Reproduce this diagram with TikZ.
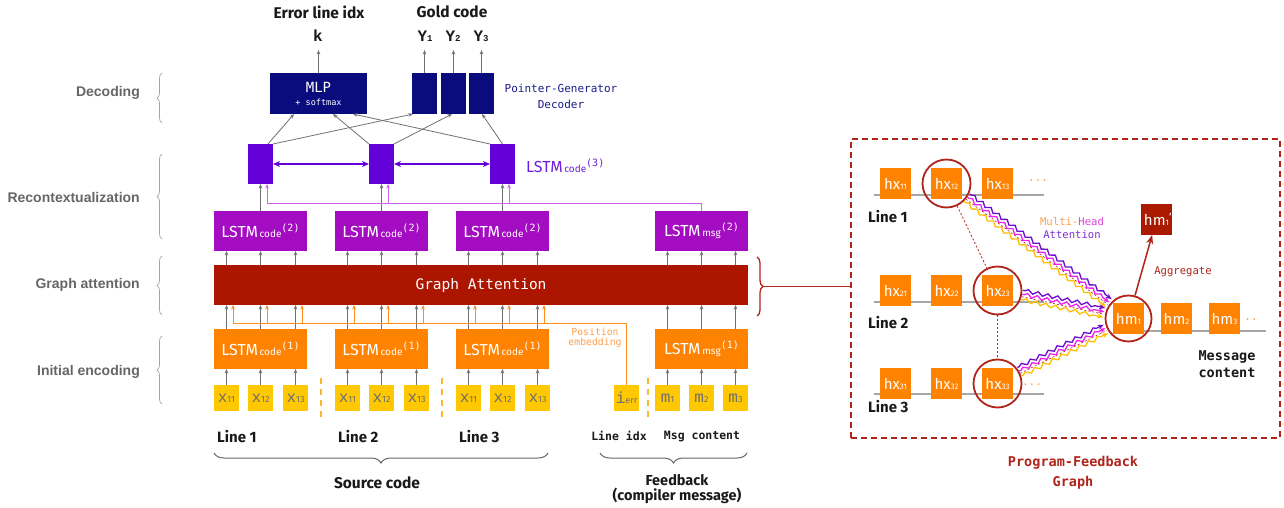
\documentclass[tikz,border=0pt]{standalone}
\usepackage{fontspec}
\setmainfont{Fira Sans}
\newfontfamily\arialf{Liberation Sans}
\newfontfamily\dmono{DejaVu Sans Mono}
\newfontfamily\courf{Liberation Mono}
\usetikzlibrary{arrows.meta,decorations.pathreplacing,decorations.pathmorphing,calc}

\definecolor{navy}{HTML}{0A0C7E}
\definecolor{lstmthree}{HTML}{6400D8}
\definecolor{lstmtwo}{HTML}{A40CC2}
\definecolor{garec}{HTML}{AC1600}
\definecolor{lstmone}{HTML}{FF8200}
\definecolor{inyel}{HTML}{FFC800}
\definecolor{arrgray}{HTML}{707070}
\definecolor{orline}{HTML}{FF8C1A}
\definecolor{ortext}{HTML}{FFA04A}
\definecolor{purline}{HTML}{CC66E6}
\definecolor{pfred}{HTML}{B0241A}
\definecolor{labgray}{HTML}{666666}
\definecolor{ptrtext}{HTML}{1C1C8C}
\definecolor{lthreetext}{HTML}{6A1FD8}
\definecolor{sepor}{HTML}{FFB52E}
\definecolor{wpurple}{HTML}{6A0DD0}
\definecolor{wmag}{HTML}{EE22EE}
\definecolor{wyel}{HTML}{FFC000}
\definecolor{intext}{HTML}{6E6E6E}
\definecolor{hmdark}{HTML}{AA1A00}
\definecolor{headmag}{HTML}{E040E0}
\definecolor{attpur}{HTML}{7A30D0}

\newcommand{\fsz}[1]{\fontsize{#1}{#1}\selectfont}
\newcommand{\lstmlab}[2]{{\fsz{16}LSTM}\,{\fsz{10}#1}{\dmono\fsz{10}\raisebox{6pt}{(#2)}}}
\newcommand{\xin}[2]{{\courf\fsz{16}#1}{\fsz{9}#2}}
\newcommand{\hxl}[2]{{\fsz{15}#1}{\fsz{8}#2}}

\tikzset{
  box/.style={inner sep=0pt, outer sep=0pt},
  mlpb/.style={box, fill=navy, text=white, minimum width=97, minimum height=41, align=center, font=\dmono},
  decb/.style={box, fill=navy, minimum width=25, minimum height=41},
  lthreeb/.style={box, fill=lstmthree, minimum width=25, minimum height=40},
  ltwob/.style={box, fill=lstmtwo, text=white, minimum width=93, minimum height=40},
  loneb/.style={box, fill=lstmone, text=white, minimum width=93, minimum height=40},
  gab/.style={box, fill=garec, text=white, minimum width=534, minimum height=40, font=\dmono\fsz{14.5}},
  inb/.style={box, fill=inyel, text=intext, minimum width=25, minimum height=26},
  hxb/.style={box, fill=lstmone, text=white, minimum width=31, minimum height=31},
  hmpb/.style={box, fill=hmdark, text=white, minimum width=31, minimum height=31},
  circ/.style={circle, draw=pfred, line width=1.8pt, minimum size=48, inner sep=0pt},
  leftlab/.style={anchor=east, inner sep=0pt, text=labgray, font=\arialf\bfseries\fsz{14}},
  lbrace/.style={decorate, decoration={brace, amplitude=5pt}, draw=labgray!60, line width=0.7pt},
  bbrace/.style={decorate, decoration={brace, amplitude=10pt}, draw=labgray, line width=1pt},
  rbrace/.style={decorate, decoration={brace, amplitude=6pt}, draw=pfred, line width=1.3pt},
  toplab/.style={inner sep=0pt, font=\bfseries\fsz{15.5}, text=black!90},
  outlab/.style={inner sep=0pt, font=\courf\bfseries\fsz{16}, text=black!90},
  linelab/.style={anchor=west, inner sep=0pt, font=\bfseries\fsz{15}, text=black!90},
  monolab/.style={inner sep=0pt, font=\dmono\bfseries\fsz{11.5}, text=black!90},
  arr/.style={-{Stealth[length=4.5pt,width=3.6pt]}, draw=arrgray, line width=0.8pt},
  orarr/.style={-{Stealth[length=4.5pt,width=3.6pt]}, draw=orline, line width=0.9pt},
  orl/.style={draw=orline, line width=0.9pt},
  purarr/.style={-{Stealth[length=4.5pt,width=3.6pt]}, draw=purline, line width=1pt},
  purl/.style={draw=purline, line width=1pt},
  dbl/.style={{Stealth[length=7pt,width=6pt,inset=2pt]}-{Stealth[length=7pt,width=6pt,inset=2pt]}, draw=lstmthree, line width=1.3pt},
  sep/.style={draw=sepor, dashed, dash pattern=on 6pt off 5pt, line width=1.3pt},
  gline/.style={draw=gray!70, line width=1.4pt},
  wavy/.style={decorate, decoration={snake, amplitude=1.8pt, segment length=10pt, pre length=2pt, post length=6pt}, -{Stealth[length=6pt,width=5pt]}, line width=1.3pt},
  aggarr/.style={-{Stealth[length=9pt,width=7pt]}, draw=pfred, line width=1.5pt},
}

\begin{document}
\begin{tikzpicture}[x=1pt,y=-1pt]
\fill[white] (0,0) rectangle (1284,508);
\useasboundingbox (0,0) rectangle (1284,508);

% ---------------- left stage labels
\node[leftlab] (ldec) at (140,93) {Decoding};
\node[leftlab] (lrec) at (140,197) {Recontextualization};
\node[leftlab] (lgat) at (140,285) {Graph attention};
\node[leftlab] (lenc) at (140,372) {Initial encoding};
\draw[lbrace] (162,123) -- (162,73);
\draw[lbrace] (162,239) -- (162,154);
\draw[lbrace] (162,315) -- (162,256);
\draw[lbrace] (162,404) -- (162,336);

% ---------------- decoder
\node[mlpb] (mlp) at (318.5,93.5) {\fsz{14}MLP\\[1pt]{\fsz{8.5}+ softmax}};
\node[decb] (yb1) at (424.5,93.5) {};
\node[decb] (yb2) at (453.5,93.5) {};
\node[decb] (yb3) at (481.5,93.5) {};
\node[font=\dmono\fontsize{11}{16}\selectfont, text=ptrtext, align=center, inner sep=0pt] (pgd) at (561,96) {Pointer-Generator\\Decoder};

\node[toplab] (errl) at (319,12) {Error line idx};
\node[toplab] (goldl) at (452,12) {Gold code};
\node[outlab] (kl) at (318,36) {k};
\node[outlab] (yl1) at (425,36) {Y{\fsz{9}1}};
\node[outlab] (yl2) at (453,36) {Y{\fsz{9}2}};
\node[outlab] (yl3) at (481,36) {Y{\fsz{9}3}};
\draw[arr] (mlp.north) -- (mlp.north |- 0,50);
\draw[arr] (yb1.north) -- (yb1.north |- 0,50);
\draw[arr] (yb2.north) -- (yb2.north |- 0,50);
\draw[arr] (yb3.north) -- (yb3.north |- 0,50);

% ---------------- LSTM code (3)
\node[lthreeb] (lta) at (260.5,164) {};
\node[lthreeb] (ltb) at (381.5,164) {};
\node[lthreeb] (ltc) at (502.5,164) {};
\draw[dbl] (lta.east) -- (ltb.west);
\draw[dbl] (ltb.east) -- (ltc.west);
\node[anchor=west, inner sep=0pt, text=lthreetext] (l3lab) at (526,166) {\lstmlab{code}{3}};

% decoder connections
\draw[arr] ($(lta.north east)+(-5,0)$) -- ($(mlp.south west)+(24,0)$);
\draw[arr] (lta.north east) -- ($(yb1.south west)+(1,0)$);
\draw[arr] (ltb.north west) -- ($(mlp.south west)+(63,0)$);
\draw[arr] (ltb.north east) -- ($(yb2.south)+(-1.5,0)$);
\draw[arr] (ltc.north west) -- ($(mlp.south west)+(83,0)$);
\draw[arr] (ltc.north) -- ($(yb3.south)+(0.5,0)$);

% ---------------- LSTM (2)
\node[ltwob] (lwa) at (260.5,231) {\lstmlab{code}{2}};
\node[ltwob] (lwb) at (381.5,231) {\lstmlab{code}{2}};
\node[ltwob] (lwc) at (502.5,231) {\lstmlab{code}{2}};
\node[ltwob] (lwm) at (701.5,231) {\lstmlab{msg}{2}};

% ---------------- Graph attention
\node[gab] (ga) at (481,285) {Graph Attention};

% ---------------- LSTM (1)
\node[loneb] (loa) at (260.5,349) {\lstmlab{code}{1}};
\node[loneb] (lob) at (381.5,349) {\lstmlab{code}{1}};
\node[loneb] (loc) at (502.5,349) {\lstmlab{code}{1}};
\node[loneb] (lom) at (701.5,349) {\lstmlab{msg}{1}};

% ---------------- inputs
\node[inb] (xa1) at (226.5,398) {\xin{x}{11}};
\node[inb] (xa2) at (260.5,398) {\xin{x}{12}};
\node[inb] (xa3) at (295.5,398) {\xin{x}{13}};
\node[inb] (xb1) at (347.5,398) {\xin{x}{11}};
\node[inb] (xb2) at (381.5,398) {\xin{x}{12}};
\node[inb] (xb3) at (416.5,398) {\xin{x}{13}};
\node[inb] (xc1) at (468.5,398) {\xin{x}{11}};
\node[inb] (xc2) at (502.5,398) {\xin{x}{12}};
\node[inb] (xc3) at (537.5,398) {\xin{x}{13}};
\node[inb] (ierr) at (626.5,398) {\xin{i}{err}};
\node[inb] (xm1) at (667.5,398) {\xin{m}{1}};
\node[inb] (xm2) at (701.5,398) {\xin{m}{2}};
\node[inb] (xm3) at (735.5,398) {\xin{m}{3}};

% input -> LSTM1, LSTM1 -> GA, GA -> LSTM2
\foreach \n/\b in {xa1/loa,xa2/loa,xa3/loa,xb1/lob,xb2/lob,xb3/lob,xc1/loc,xc2/loc,xc3/loc,xm1/lom,xm2/lom,xm3/lom}{
  \draw[arr] (\n.north) -- (\n.north |- \b.south);
  \draw[arr] (\n.center |- \b.north) -- (\n.center |- ga.south);
}
\foreach \n/\b in {xa1/lwa,xa2/lwa,xa3/lwa,xb1/lwb,xb2/lwb,xb3/lwb,xc1/lwc,xc2/lwc,xc3/lwc,xm1/lwm,xm2/lwm,xm3/lwm}{
  \draw[arr] (\n.center |- ga.north) -- (\n.center |- \b.south);
}

% position embedding
\coordinate (pe) at (233,323);
\draw[orl] (ierr.north) |- (pe);
\foreach \n in {xa1,xa2,xa3,xb1,xb2,xb3,xc1,xc2,xc3}{
  \draw[orarr] ($(\n.center |- pe)+(6.5,0)$) -- ($(\n.center |- ga.south)+(6.5,0)$);
}
\node[font=\dmono\fontsize{9.8}{10.5}\selectfont, text=ortext, align=center, inner sep=0pt] (posemb) at (595,338) {Position\\embedding};

% LSTM2 -> LSTM3
\draw[arr] (lwa.north) -- (lta.south);
\draw[arr] (lwb.north) -- (ltb.south);
\draw[arr] (lwc.north) -- (ltc.south);
\coordinate (pp) at (267,203);
\draw[purl] (lwm.north) |- (pp);
\foreach \t in {lta,ltb,ltc}{
  \draw[purarr] ($(\t.center |- pp)+(6.5,0)$) -- ($(\t.south)+(6.5,0)$);
}

% separators
\draw[sep] (321,378) -- (321,417);
\draw[sep] (442,378) -- (442,417);
\draw[sep] (648,378) -- (648,417);

% bottom labels
\node[linelab] (line1) at (217,437) {Line 1};
\node[linelab] (line2) at (338,437) {Line 2};
\node[linelab] (line3) at (459,437) {Line 3};
\node[monolab] (lidx) at (619,436) {Line idx};
\node[monolab] (msgc) at (702,436) {Msg content};
\draw[bbrace] (548,453) -- (214,453);
\draw[bbrace] (747,453) -- (600,453);
\node[inner sep=0pt, font=\bfseries\fsz{15.5}, text=black!90] (srcc) at (377,483) {Source code};
\node[inner sep=0pt, font=\bfseries\fontsize{14.5}{15}\selectfont, text=black!90, align=center] (fbk) at (677,489.5) {Feedback\\(compiler message)};

% ---------------- right panel
\node[box, draw=pfred, dashed, dash pattern=on 6pt off 4pt, line width=1.4pt, minimum width=429, minimum height=299] (pfg) at (1065.5,288.5) {};
\draw[rbrace] (757,257) -- (757,316);
\coordinate (btip) at (763,286.5);
\draw[draw=pfred, line width=1.3pt] (btip) -- (btip -| pfg.west);
\node[inner sep=0pt, font=\dmono\bfseries\fontsize{13.5}{20}\selectfont, text=pfred, align=center] (pfgl) at (1073,473) {Program-Feedback\\Graph};

% row lines
\draw[gline] (874,195) -- (1044,195);
\draw[gline] (874,302) -- (1044,302);
\draw[gline] (874,394) -- (1044,394);
\draw[gline] (1140,331) -- (1266,331);

\node[hxb] (hx11) at (895.5,183.5) {\hxl{hx}{11}};
\node[hxb] (hx12) at (946.5,183.5) {\hxl{hx}{12}};
\node[hxb] (hx13) at (997.5,183.5) {\hxl{hx}{13}};
\node[hxb] (hx21) at (895.5,290.5) {\hxl{hx}{21}};
\node[hxb] (hx22) at (946.5,290.5) {\hxl{hx}{22}};
\node[hxb] (hx23) at (997.5,290.5) {\hxl{hx}{23}};
\node[hxb] (hx31) at (895.5,383.5) {\hxl{hx}{31}};
\node[hxb] (hx32) at (946.5,383.5) {\hxl{hx}{32}};
\node[hxb] (hx33) at (997.5,383.5) {\hxl{hx}{33}};
\node[hxb] (hm1) at (1128.5,318.5) {\hxl{hm}{1}};
\node[hxb] (hm2) at (1176.5,318.5) {\hxl{hm}{2}};
\node[hxb] (hm3) at (1224.5,318.5) {\hxl{hm}{3}};
\node[hmpb] (hmp) at (1156.5,219.5) {\hxl{hm}{1}\rlap{\raisebox{4pt}{\fsz{11}'}}};
\node[inner sep=0pt, text=ortext, font=\dmono\fsz{11}] (dots1) at (1038,181) {...};
\node[inner sep=0pt, text=ortext, font=\dmono\fsz{11}] (dots3) at (1032,385) {...};
\node[inner sep=0pt, text=ortext, font=\dmono\fsz{11}] (dotsm) at (1251,320) {..};

\node[circ] (c12) at (hx12) {};
\node[circ] (c23) at (hx23) {};
\node[circ] (c33) at (hx33) {};
\node[circ, minimum size=46] (cm1) at (hm1) {};

\draw[draw=pfred, dashed, dash pattern=on 2pt off 2pt, line width=0.8pt] (c12) -- (c23);
\draw[draw=pfred, dashed, dash pattern=on 2pt off 2pt, line width=0.8pt] (c23) -- (c33);

\foreach \s in {c12,c23,c33}{
  \coordinate (S) at ($(\s)!25pt!(cm1)$);
  \coordinate (E) at ($(cm1)!25pt!(\s)$);
  \draw[wavy, draw=wyel] ($(S)!4pt!-90:(E)$) -- ($(E)!4pt!90:(S)$);
  \draw[wavy, draw=wmag] ($(S)!1.5pt!90:(E)$) -- ($(E)!1.5pt!-90:(S)$);
  \draw[wavy, draw=wpurple] ($(S)!5.5pt!90:(E)$) -- ($(E)!5.5pt!-90:(S)$);
  \draw[draw=pfred, dashed, dash pattern=on 2pt off 2pt, line width=0.6pt] ($(S)!1pt!-90:(E)$) -- ($(E)!1pt!90:(S)$);
}

\draw[aggarr] (cm1) -- (hmp);
\node[inner sep=0pt, text=pfred, font=\dmono\fsz{10.6}] (aggl) at (1183,272) {Aggregate};
\node[inner sep=0pt, font=\dmono\fontsize{10.6}{13}\selectfont, align=center] (mha) at (1072,228.5) {\textcolor{ortext}{Multi-}\textcolor{headmag}{Head}\\\textcolor{attpur}{Attention}};
\node[inner sep=0pt, font=\dmono\bfseries\fontsize{13.5}{17}\selectfont, align=center, text=black!90] (msgcont) at (1227,364.5) {Message\\content};

\node[linelab] (gl1) at (868,217) {Line 1};
\node[linelab] (gl2) at (868,323) {Line 2};
\node[linelab] (gl3) at (868,407) {Line 3};
\end{tikzpicture}
\end{document}
